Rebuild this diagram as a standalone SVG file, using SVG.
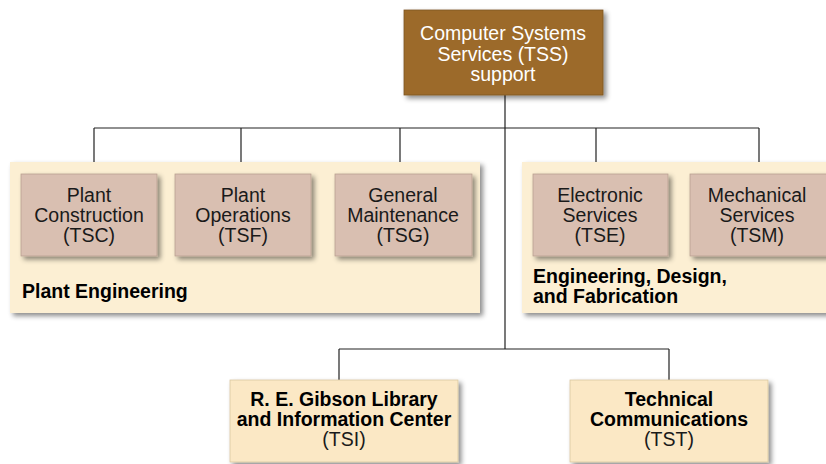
<svg xmlns="http://www.w3.org/2000/svg" width="826" height="464" viewBox="0 0 826 464">
<defs>
<filter id="sh" x="-10%" y="-10%" width="130%" height="140%">
<feDropShadow dx="3" dy="3" stdDeviation="2.5" flood-color="#000" flood-opacity="0.45"/>
</filter>
<style>
.panel{fill:#fcefd3;filter:url(#sh)}
.unit{fill:#d9bfb1;stroke:#b9a091;stroke-width:0.8;filter:url(#sh)}
.top{fill:#9c6b2a;stroke:#7d5520;stroke-width:0.8;filter:url(#sh)}
.lib{fill:#fbe8c5;stroke:#d9c7a0;stroke-width:0.8;filter:url(#sh)}
.t{font-family:"Liberation Sans",Arial,sans-serif;font-size:19.5px;text-anchor:middle;fill:#1a1a1a}
.w{fill:#ffffff}
.b{font-family:"Liberation Sans",Arial,sans-serif;font-size:19.5px;font-weight:bold;fill:#000}
.bc{text-anchor:middle}
.c{fill:none;stroke:#222;stroke-width:1.2}
</style>
</defs>
<rect width="826" height="464" fill="#ffffff"/>
<g id="connectors">
<path class="c" d="M505 95 V349 M94 128 H759 M94 128 V174 M241 128 V174 M400 128 V174 M596 128 V174 M759 128 V174 M339 349 H669 M339 349 V380 M669 349 V380"/>
</g>
<g id="plant-engineering">
<rect class="panel" x="10" y="162" width="470" height="151"/>
<text class="b" x="22" y="298">Plant Engineering</text>
</g>
<g id="edf">
<rect class="panel" x="522" y="162" width="310" height="151"/>
<text class="b" x="533" y="283">Engineering, Design,</text>
<text class="b" x="533" y="303">and Fabrication</text>
</g>
<g id="tss">
<rect class="top" x="404" y="10" width="199" height="85"/>
<text class="t w" x="503" y="40">Computer Systems</text>
<text class="t w" x="503" y="61">Services (TSS)</text>
<text class="t w" x="503" y="81">support</text>
</g>
<g id="tsc">
<rect class="unit" x="21" y="174" width="136" height="82"/>
<text class="t" x="89" y="202">Plant</text>
<text class="t" x="89" y="222">Construction</text>
<text class="t" x="89" y="242">(TSC)</text>
</g>
<g id="tsf">
<rect class="unit" x="175" y="174" width="136" height="82"/>
<text class="t" x="243" y="202">Plant</text>
<text class="t" x="243" y="222">Operations</text>
<text class="t" x="243" y="242">(TSF)</text>
</g>
<g id="tsg">
<rect class="unit" x="335" y="174" width="137" height="82"/>
<text class="t" x="403" y="202">General</text>
<text class="t" x="403" y="222">Maintenance</text>
<text class="t" x="403" y="242">(TSG)</text>
</g>
<g id="tse">
<rect class="unit" x="533" y="174" width="135" height="82"/>
<text class="t" x="600" y="202">Electronic</text>
<text class="t" x="600" y="222">Services</text>
<text class="t" x="600" y="242">(TSE)</text>
</g>
<g id="tsm">
<rect class="unit" x="690" y="174" width="140" height="82"/>
<text class="t" x="757" y="202">Mechanical</text>
<text class="t" x="757" y="222">Services</text>
<text class="t" x="757" y="242">(TSM)</text>
</g>
<g id="tsi">
<rect class="lib" x="230" y="380" width="228" height="82"/>
<text class="b bc" x="344" y="406">R. E. Gibson Library</text>
<text class="b bc" x="344" y="426">and Information Center</text>
<text class="t" x="344" y="446">(TSI)</text>
</g>
<g id="tst">
<rect class="lib" x="570" y="380" width="198" height="82"/>
<text class="b bc" x="669" y="406">Technical</text>
<text class="b bc" x="669" y="426">Communications</text>
<text class="t" x="669" y="446">(TST)</text>
</g>
</svg>
